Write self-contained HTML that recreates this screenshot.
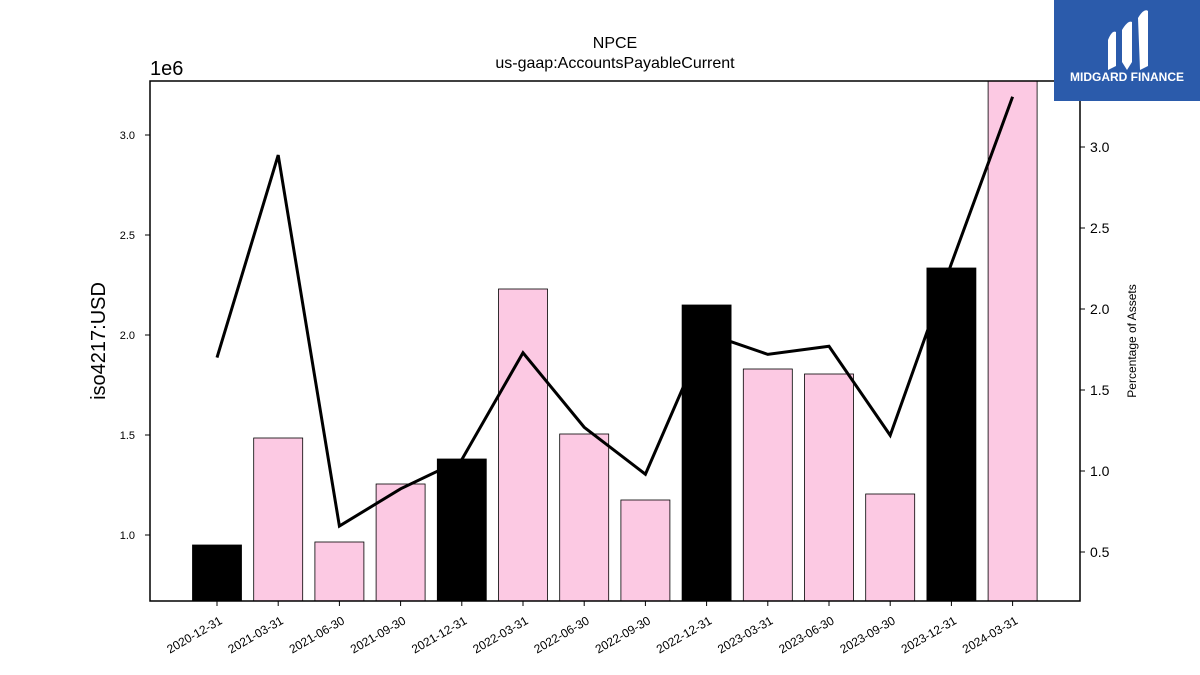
<!DOCTYPE html>
<html><head><meta charset="utf-8"><style>
body{margin:0;background:#fff;width:1200px;height:675px;overflow:hidden;font-family:"Liberation Sans",sans-serif}
svg{display:block}
</style></head><body>
<svg id="chart" width="1200" height="675" xmlns="http://www.w3.org/2000/svg" font-family="Liberation Sans, DejaVu Sans, sans-serif">
<text x="615" y="48" font-size="16" text-anchor="middle">NPCE</text>
<text x="615" y="68" font-size="16" text-anchor="middle">us-gaap:AccountsPayableCurrent</text>
<text x="150" y="75" font-size="20">1e6</text>
<text transform="translate(105,341) rotate(-90)" font-size="20" text-anchor="middle">iso4217:USD</text>
<text transform="translate(1136,341) rotate(-90)" font-size="12" text-anchor="middle">Percentage of Assets</text>
<g id="bars"></g><g id="line"></g><g id="axes"></g>
<g>
<rect x="1054" y="0" width="146" height="101" fill="#2b5bab"/>
<path d="M1108 40 Q1112 30 1116 32 L1116 66 L1108 70 Z M1122 30 Q1128 20 1132 22 L1132 62 L1127 70 L1122 62 Z M1138 18 Q1144 8 1148 11 L1148 66 L1140 70 Z" fill="#fff"/>
<text x="1127" y="81" font-size="12" font-weight="bold" fill="#fff" text-anchor="middle">MIDGARD FINANCE</text>
</g>
</svg>
<script>
const categories=["2020-12-31","2021-03-31","2021-06-30","2021-09-30","2021-12-31","2022-03-31","2022-06-30","2022-09-30","2022-12-31","2023-03-31","2023-06-30","2023-09-30","2023-12-31","2024-03-31"];
const barValues=[0.95,1.485,0.965,1.255,1.38,2.23,1.505,1.175,2.15,1.83,1.805,1.205,2.335,3.28];
const pctValues=[1.70,2.95,0.66,0.89,1.07,1.73,1.27,0.98,1.85,1.72,1.77,1.22,2.28,3.31];
const leftTicks=[1.0,1.5,2.0,2.5,3.0];
const rightTicks=[0.5,1.0,1.5,2.0,2.5,3.0];
const NS="http://www.w3.org/2000/svg";
const L=150,R=1080,T=81,B=601;
const x=i=>217+i*61.2;
const yL=v=>535-(v-1.0)*200;
const yR=v=>147-(v-3.0)*162;
function mk(tag,attrs,parent){const e=document.createElementNS(NS,tag);for(const k in attrs)e.setAttribute(k,attrs[k]);parent.appendChild(e);return e;}
const gb=document.getElementById('bars'),gl=document.getElementById('line'),ga=document.getElementById('axes');
categories.forEach((c,i)=>{
 const top=Math.max(T,yL(barValues[i]));
 const r=mk('rect',{x:x(i)-24.5,y:top,width:49,height:B-top,fill:c.endsWith('12-31')?'#000':'#fcc9e3',stroke:'#000','stroke-width':0.8},gb);
 
 
 const t=mk('text',{transform:`translate(${x(i)+6},${B+22}) rotate(-30)`,'font-size':12,'text-anchor':'end'},ga);
 t.textContent=c;
 
 
 mk('line',{x1:x(i),x2:x(i),y1:B,y2:B+5,stroke:'#000'},ga);
});
const pl=mk('polyline',{points:pctValues.map((v,i)=>x(i)+','+yR(v)).join(' '),fill:'none',stroke:'#000','stroke-width':3},gl);


const fr=mk('rect',{x:L,y:T,width:R-L,height:B-T,fill:'none',stroke:'#000','stroke-width':1.5},ga);


leftTicks.forEach(v=>{
 mk('line',{x1:L-5,x2:L,y1:yL(v),y2:yL(v),stroke:'#000'},ga);
 const t=mk('text',{x:L-15,y:yL(v)+4,'font-size':11,'text-anchor':'end'},ga);
 t.textContent=v.toFixed(1);
 
 
});
rightTicks.forEach(v=>{
 mk('line',{x1:R,x2:R+5,y1:yR(v),y2:yR(v),stroke:'#000'},ga);
 const t=mk('text',{x:R+10,y:yR(v)+5,'font-size':14},ga);
 t.textContent=v.toFixed(1);
 
 
});
</script>
</body></html>
